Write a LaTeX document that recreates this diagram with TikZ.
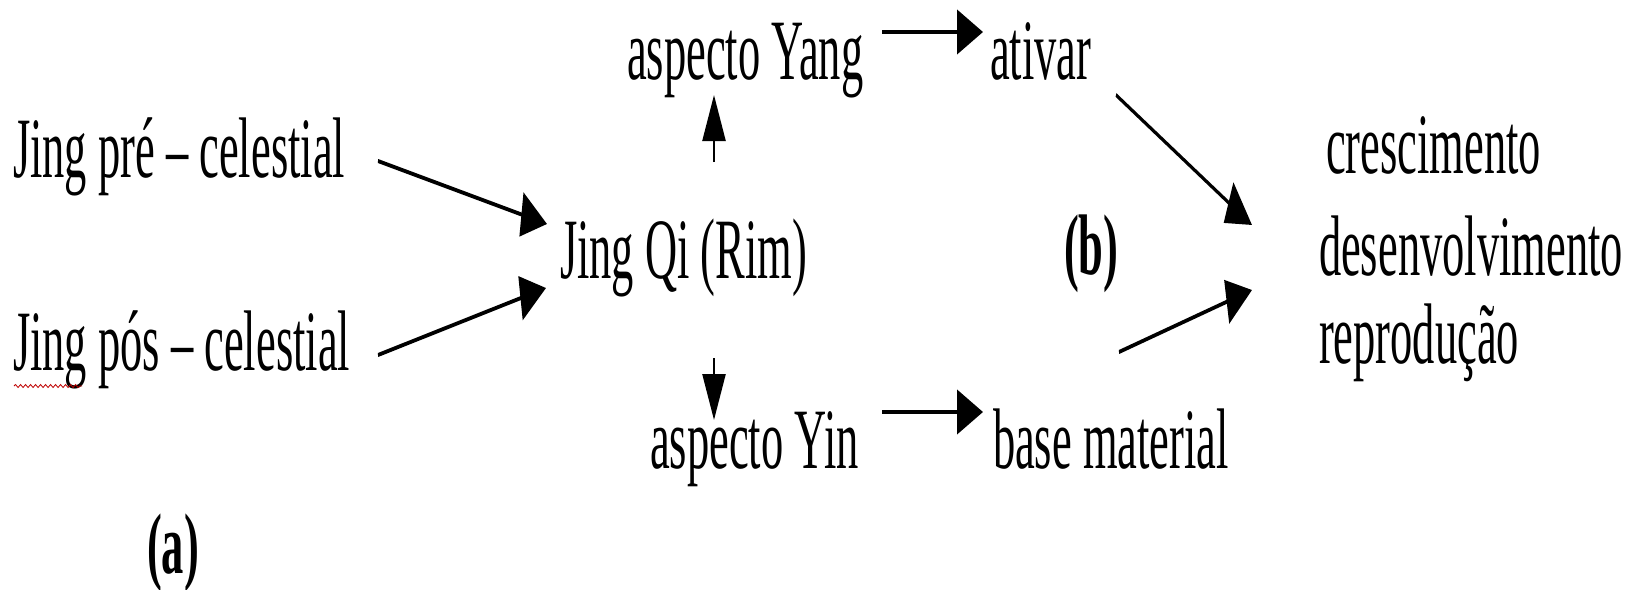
\documentclass[tikz,border=0pt]{standalone}
\usepackage{fontspec}
\setmainfont{Liberation Serif}
\usetikzlibrary{arrows.meta,decorations.pathmorphing}
\newcommand{\sqtext}[1]{\scalebox{0.517}[1]{\fontsize{86}{100}\selectfont #1}}
\begin{document}
\begin{tikzpicture}[x=1pt,y=-1pt,
  lbl/.style={inner sep=0pt,outer sep=0pt,anchor=base west},
  bigarrow/.style={line width=4pt,-{Triangle[length=52pt,width=44pt]}},
  smallarrow/.style={line width=5pt,-{Triangle[length=46pt,width=46pt]}}]
\useasboundingbox (0,0) rectangle (1648,589);
\fill[white] (0,0) rectangle (1648,589);

\node[lbl] (pre) at (13,177) {\sqtext{Jing pré – celestial}};
\node[lbl] (pos) at (13,370) {\sqtext{Jing pós – celestial}};
\node[lbl] (qi) at (560,278) {\sqtext{Jing Qi (Rim)}};
\node[lbl] (yang) at (627,79) {\sqtext{aspecto Yang}};
\node[lbl] (ativar) at (990,79) {\sqtext{ativar}};
\node[lbl] (yin) at (650,468) {\sqtext{aspecto Yin}};
\node[lbl] (base) at (993,468) {\sqtext{base material}};
\node[lbl] (b) at (1064,274) {\sqtext{\bfseries (b)}};
\node[lbl] (cres) at (1326,173) {\sqtext{crescimento}};
\node[lbl] (desen) at (1319,275) {\sqtext{desenvolvimento}};
\node[lbl] (repro) at (1319,363) {\sqtext{reprodução}};
\node[lbl] (a) at (147,573) {\sqtext{\bfseries (a)}};

% spell-check underline
\draw[red!75!black,line width=0.8pt,decorate,decoration={snake,amplitude=1.5pt,segment length=5pt}]
  (14,386) -- (82,386);

% arrows, drawn in the unsqueezed space and squeezed horizontally with the text
\begin{scope}[transform canvas={xscale=0.5}]
\coordinate (preS) at (756,161);   \coordinate (qiA) at (1094,224);
\coordinate (posS) at (756,355);   \coordinate (qiB) at (1092,288);
\coordinate (upS) at (1428,162);   \coordinate (upT) at (1428,95);
\coordinate (dnS) at (1428,358);   \coordinate (dnT) at (1428,420);
\coordinate (yangS) at (1764,32);  \coordinate (ativarT) at (1966,32);
\coordinate (yinS) at (1764,412);  \coordinate (baseT) at (1966,412);
\coordinate (ativarS) at (2232,95); \coordinate (resA) at (2504,225);
\coordinate (baseS) at (2238,352);  \coordinate (resB) at (2504,290);

\draw[bigarrow] (preS) -- (qiA);
\draw[bigarrow] (posS) -- (qiB);
\draw[smallarrow] (upS) -- (upT);
\draw[smallarrow] (dnS) -- (dnT);
\draw[bigarrow] (yangS) -- (ativarT);
\draw[bigarrow] (yinS) -- (baseT);
\draw[bigarrow] (ativarS) -- (resA);
\draw[bigarrow] (baseS) -- (resB);
\end{scope}
\end{tikzpicture}
\end{document}
